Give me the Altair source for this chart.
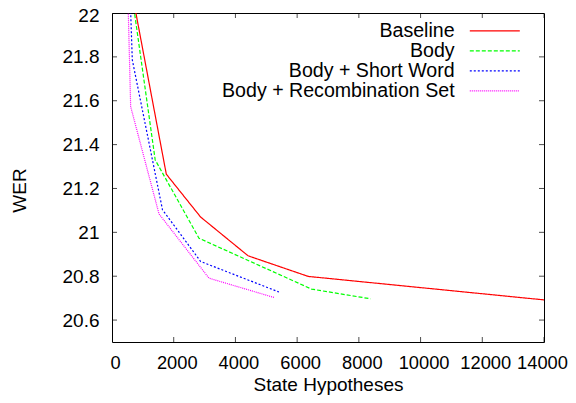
import altair as alt
import pandas as pd

series_names = ["Baseline", "Body", "Body + Short Word", "Body + Recombination Set"]

baseline_x = [600, 1760, 2870, 4410, 6360, 14000]
baseline_y = [22.13, 21.265, 21.07, 20.893, 20.799, 20.692]
body_x = [600, 1400, 2820, 6470, 8380]
body_y = [22.13, 21.33, 20.973, 20.741, 20.697]
short_x = [560, 658, 1636, 2873, 5410]
short_y = [22.19, 21.786, 21.103, 20.867, 20.728]
recomb_x = [480, 605, 1523, 3143, 5250]
recomb_y = [22.27, 21.573, 21.084, 20.791, 20.703]

x_ticks = [0, 2000, 4000, 6000, 8000, 10000, 12000, 14000]
y_ticks = [20.6, 20.8, 21.0, 21.2, 21.4, 21.6, 21.8, 22.0]

colors = ["#ff0000", "#00ff00", "#0000ff", "#ff00ff"]
dashes = [[1, 0], [4, 2], [2, 2], [1, 1]]

rows = []
for name, xs, ys in zip(series_names,
                        [baseline_x, body_x, short_x, recomb_x],
                        [baseline_y, body_y, short_y, recomb_y]):
    for xv, yv in zip(xs, ys):
        rows.append({"series": name, "x": xv, "y": yv})
df = pd.DataFrame(rows)

FONT = "Liberation Sans"

xscale = alt.Scale(domain=[0, 14000], nice=False, zero=False)
yscale = alt.Scale(domain=[20.5, 22], nice=False, zero=False)

legend = alt.Legend(
    title=None, orient="none", legendX=373, legendY=8, direction="vertical",
    labelAlign="right", labelOffset={"expr": "-50"}, labelFont=FONT, labelFontSize=19.6,
    labelLimit=400, labelColor="black",
    symbolType="M-5,0H5", symbolSize=100, symbolStrokeWidth=1.2,
    rowPadding={"expr": "-1.5"},
)

lines = alt.Chart(df).mark_line(clip=True, strokeWidth=1.2).encode(
    x=alt.X("x:Q", scale=xscale,
            axis=alt.Axis(values=x_ticks, title="State Hypotheses", format="d",
                          labelFontSize=18.3,
                          labelPadding=12, labelOverlap=False, labelFlush=False,
                          labelOffset={"condition": {"test": "datum.value == 14000", "value": -2}, "value": 3},
                          titleY=42, titleBaseline="middle")),
    y=alt.Y("y:Q", scale=yscale,
            axis=alt.Axis(values=y_ticks, format=".1~f", title="WER",
                          labelPadding=13, labelOverlap=False, labelFlush=False,
                          labelOffset={"condition": {"test": "datum.value == 22", "value": 2}, "value": 0},
                          titleX=-93, titleY=177,
                          titleBaseline="middle", titleAngle=270)),
    color=alt.Color("series:N", scale=alt.Scale(domain=series_names, range=colors), legend=legend),
    strokeDash=alt.StrokeDash("series:N", scale=alt.Scale(domain=series_names, range=dashes), legend=legend),
    order=alt.Order("x:Q"),
)

xt = pd.DataFrame({"x": x_ticks})
yt = pd.DataFrame({"y": y_ticks})

tick_style = dict(size=10, thickness=1, color="black", clip=True)
bottom = alt.Chart(xt).mark_tick(orient="vertical", **tick_style).encode(
    x=alt.X("x:Q", scale=xscale), y=alt.datum(20.5))
top = alt.Chart(xt).mark_tick(orient="vertical", **tick_style).encode(
    x=alt.X("x:Q", scale=xscale), y=alt.datum(22.0))
left = alt.Chart(yt).mark_tick(orient="horizontal", **tick_style).encode(
    y=alt.Y("y:Q", scale=yscale), x=alt.datum(0))
right = alt.Chart(yt).mark_tick(orient="horizontal", **tick_style).encode(
    y=alt.Y("y:Q", scale=yscale), x=alt.datum(14000))

chart = alt.layer(lines, bottom, top, left, right).properties(
    width=432, height=329,
    autosize=alt.AutoSizeParams(type="none"),
    padding={"left": 104, "top": 5, "right": 24, "bottom": 53},
    background="white",
).configure_view(
    stroke="black", strokeWidth=1
).configure_axis(
    domain=False, ticks=False, grid=False,
    labelFont=FONT, labelFontSize=19, labelColor="black",
    titleFont=FONT, titleFontSize=19, titleFontWeight="normal", titleColor="black",
)

chart.save("out.html", embed_options={"renderer": "svg", "actions": False})
